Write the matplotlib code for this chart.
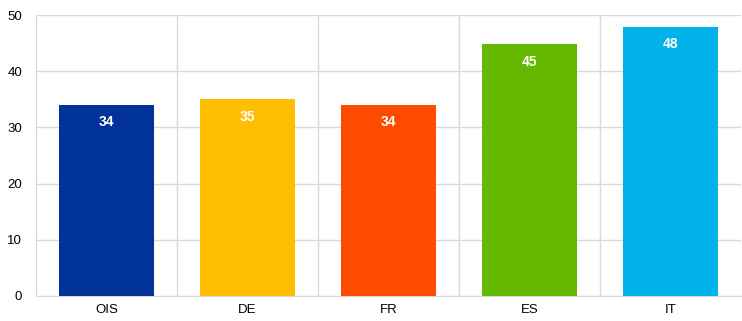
import numpy as np
import matplotlib
matplotlib.use("Agg")
from matplotlib import pyplot as plt

plt.rcParams['font.family'] = ['Liberation Sans', 'DejaVu Sans']

# chart data
categories = ["OIS", "DE", "FR", "ES", "IT"]
values = [34, 35, 34, 44.8, 47.9]
labels = ["34", "35", "34", "45", "48"]
colors = ["#003299", "#ffbf00", "#ff4b00", "#65b800", "#00b1ea"]

grid_col = "#d9d9d9"

fig = plt.figure(figsize=(7.42, 3.21), dpi=100)
ax = fig.add_axes([36 / 742, 1 - 296 / 321, 705 / 742, 281 / 321])

x = np.arange(len(categories))
bars = ax.bar(x, values, width=0.67, color=colors, zorder=3)

for b, lab in zip(bars, labels):
    ax.text(b.get_x() + b.get_width() / 2, b.get_height() - 3.1, lab,
            ha="center", va="center", color="white", fontsize=10,
            fontweight="bold", zorder=4)

ax.set_xlim(-0.5, len(categories) - 0.5)
ax.set_ylim(0, 50)
ax.set_yticks(np.arange(0, 51, 10))
ax.set_xticks(x)
ax.set_xticklabels(categories)

# horizontal grid plus vertical separators between categories
ax.yaxis.grid(True, color=grid_col, linewidth=1, zorder=0)
for sep in np.arange(0.5, len(categories) - 1, 1.0):
    ax.axvline(sep, color=grid_col, linewidth=1, zorder=0)

for side in ["top", "right"]:
    ax.spines[side].set_visible(False)
ax.spines["left"].set_color(grid_col)
ax.spines["bottom"].set_color(grid_col)
ax.tick_params(length=0, labelsize=9.5, colors="#000000", pad=6)
ax.tick_params(axis="y", pad=10)

fig.savefig("out.png", dpi=100)
